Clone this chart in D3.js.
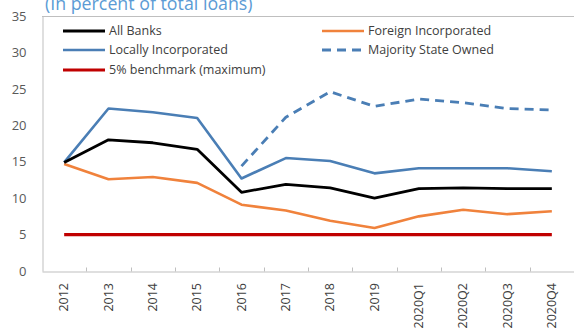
<!DOCTYPE html>
<html>
<head>
<meta charset="utf-8">
<script src="https://cdn.jsdelivr.net/npm/d3@7"></script>
<style>
  html, body { margin: 0; padding: 0; background: #fff; }
  svg { display: block; }
  text { font-family: "Open Sans", "Noto Sans", sans-serif; }
</style>
</head>
<body>
<svg id="chart" width="574" height="329"></svg>
<script>
// Non-performing loans by bank group, in percent of total loans
const categories = ["2012", "2013", "2014", "2015", "2016", "2017", "2018", "2019",
                    "2020Q1", "2020Q2", "2020Q3", "2020Q4"];
const allBanks      = [14.9, 18.0, 17.6, 16.7, 10.8, 11.9, 11.4, 10.0, 11.3, 11.4, 11.3, 11.3];
const foreignInc    = [14.7, 12.6, 12.9, 12.1, 9.1, 8.3, 6.9, 5.9, 7.5, 8.4, 7.8, 8.2];
const locallyInc    = [14.9, 22.3, 21.8, 21.0, 12.7, 15.5, 15.1, 13.4, 14.1, 14.1, 14.1, 13.7];
const stateOwned    = [null, null, null, null, 14.4, 21.1, 24.6, 22.6, 23.6, 23.1, 22.3, 22.1];
const benchmark     = [5, 5, 5, 5, 5, 5, 5, 5, 5, 5, 5, 5];
const yTicks        = [0, 5, 10, 15, 20, 25, 30, 35];

const svg = d3.select("#chart");
const plot = { left: 42, right: 574, top: 16, bottom: 271 };

const x = d3.scaleBand().domain(categories).range([plot.left, plot.right]);
const y = d3.scaleLinear().domain([0, 35]).range([plot.bottom, plot.top]);

// Title
svg.append("text")
  .attr("x", 45).attr("y", 10)
  .attr("fill", "#5b9bd5")
  .attr("font-size", 17.8)
  .text("(In percent of total loans)");

// Plot frame: top border
svg.append("line")
  .attr("x1", plot.left).attr("x2", plot.right)
  .attr("y1", plot.top + 0.5).attr("y2", plot.top + 0.5)
  .attr("stroke", "#bfbfbf");

// Y axis
const yAxis = svg.append("g")
  .attr("transform", `translate(${plot.left + 0.5},0)`)
  .call(d3.axisLeft(y).tickValues(yTicks).tickSize(0).tickPadding(16));
yAxis.select(".domain").attr("stroke", "#bfbfbf");
yAxis.selectAll("text").attr("fill", "#595959").attr("font-size", 13)
  .attr("font-family", "\"Open Sans\", sans-serif");

// X axis: ticks between categories, pointing into the plot
const xAxis = svg.append("g")
  .attr("transform", `translate(0,${plot.bottom + 0.5})`)
  .call(d3.axisBottom(x).tickSize(0).tickFormat(""));
xAxis.select(".domain").attr("stroke", "#bfbfbf");
xAxis.selectAll(".tick").remove();
xAxis.selectAll(".boundary")
  .data(categories.slice(1))
  .join("line")
  .attr("class", "boundary")
  .attr("x1", d => Math.round(x(d)) + 0.5)
  .attr("x2", d => Math.round(x(d)) + 0.5)
  .attr("y1", 0).attr("y2", -4)
  .attr("stroke", "#bfbfbf");

svg.append("g").selectAll("text")
  .data(categories)
  .join("text")
  .attr("transform", d => `translate(${x(d) + x.bandwidth() / 2 + 4},${plot.bottom + 12}) rotate(-90)`)
  .attr("text-anchor", "end")
  .attr("fill", "#404040")
  .attr("font-size", 12.5)
  .text(d => d);

// Lines
const line = d3.line()
  .defined(d => d.v != null)
  .x(d => x(d.c) + x.bandwidth() / 2)
  .y(d => y(d.v));

const series = [
  { name: "5% benchmark (maximum)", values: benchmark,  color: "#c00000", width: 3.2, dash: null },
  { name: "Foreign Incorporated",   values: foreignInc, color: "#f0823c", width: 2.6, dash: null },
  { name: "Majority State Owned",   values: stateOwned, color: "#4a7eb5", width: 2.8, dash: "9,6" },
  { name: "Locally Incorporated",   values: locallyInc, color: "#4a7eb5", width: 2.6, dash: null },
  { name: "All Banks",              values: allBanks,   color: "#000000", width: 2.8, dash: null }
];

svg.append("g").selectAll("path")
  .data(series)
  .join("path")
  .attr("fill", "none")
  .attr("stroke", s => s.color)
  .attr("stroke-width", s => s.width)
  .attr("stroke-dasharray", s => s.dash)
  .attr("stroke-linejoin", "round")
  .attr("d", s => line(s.values.map((v, i) => ({ c: categories[i], v }))));

// Legend
const legendItems = [
  { name: "All Banks",              x: 63,  y: 31, s: series[4] },
  { name: "Locally Incorporated",   x: 63,  y: 50, s: series[3] },
  { name: "5% benchmark (maximum)", x: 63,  y: 70, s: series[0] },
  { name: "Foreign Incorporated",   x: 322, y: 31, s: series[1] },
  { name: "Majority State Owned",   x: 322, y: 50, s: series[2] }
];
const lg = svg.append("g").selectAll("g")
  .data(legendItems)
  .join("g")
  .attr("transform", d => `translate(${d.x},${d.y})`);
lg.append("line")
  .attr("x1", 0).attr("x2", 42)
  .attr("stroke", d => d.s.color)
  .attr("stroke-width", d => d.s.width)
  .attr("stroke-dasharray", d => d.s.dash);
lg.append("text")
  .attr("x", 46).attr("dy", "0.35em")
  .attr("fill", "#404040")
  .attr("font-size", 12.5)
  .text(d => d.name);
</script>
</body>
</html>
